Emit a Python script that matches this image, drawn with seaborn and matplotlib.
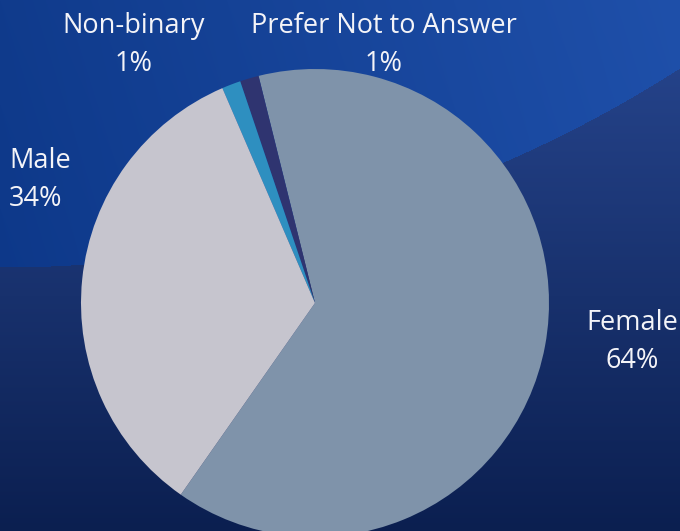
import numpy as np
import matplotlib
matplotlib.use("Agg")
import matplotlib.pyplot as plt
import seaborn as sns
from matplotlib.colors import to_rgb

# data
labels = ["Female", "Prefer Not to Answer", "Non-binary", "Male"]
shares = [63.6, 1.3, 1.3, 33.8]
pct_text = ["64%", "1%", "1%", "34%"]
colors = ["#7f93aa", "#2f3470", "#2e8fc0", "#c6c5ce"]

sns.set_theme(style="white")
plt.rcParams["font.family"] = ["Open Sans", "DejaVu Sans"]

W, H = 680, 531
fig = plt.figure(figsize=(W / 100, H / 100), dpi=100)

# background: bright blue disc upper-left, darker navy gradient below it
yy, xx = np.mgrid[0:H, 0:W].astype(float)
inside = (xx - 0) ** 2 + (yy + 993) ** 2 < 1260 ** 2
top_l, top_r = np.array(to_rgb("#103b8c")), np.array(to_rgb("#1f50aa"))
low_t, low_b = np.array(to_rgb("#25438a")), np.array(to_rgb("#0b1f50"))
tx = (xx / W)[..., None]
ty = np.clip((yy - 60) / (H - 60), 0, 1)[..., None]
upper = top_l * (1 - tx) + top_r * tx - 0.02 * (yy / H)[..., None]
lower = low_t * (1 - ty) + low_b * ty
bg = np.where(inside[..., None], upper, lower)
bax = fig.add_axes([0, 0, 1, 1])
bax.imshow(np.clip(bg, 0, 1), aspect="auto", extent=[0, W, H, 0])
bax.axis("off")

ax = fig.add_axes([0, 0, 1, 1])
ax.pie(shares, colors=colors, startangle=-125, counterclock=True,
       center=(315, H - 303), radius=234, wedgeprops=dict(linewidth=0))
ax.set_xlim(0, W)
ax.set_ylim(0, H)
ax.set_aspect("auto")
ax.axis("off")
ax.patch.set_alpha(0)

txt = dict(color="#f4f4f8", fontsize=19.5, linespacing=1.45, va="center")
ax.text(632, H - 342, f"{labels[0]}\n{pct_text[0]}", ha="center", **txt)
ax.text(384, H - 45, f"{labels[1]}\n{pct_text[1]}", ha="center", **txt)
ax.text(134, H - 45, f"{labels[2]}\n{pct_text[2]}", ha="center", **txt)
ax.text(9, H - 180, f"{labels[3]}\n{pct_text[3]}", ha="left", **txt)

fig.savefig("out.png", dpi=100)
